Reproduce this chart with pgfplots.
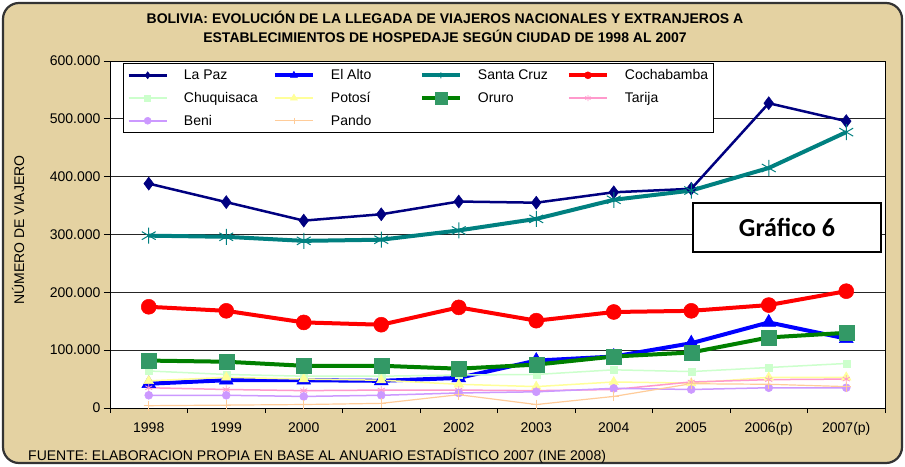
\documentclass[border=0pt]{standalone}
\usepackage{pgfplots}
\pgfplotsset{compat=1.18}
\usepackage{fontspec}
\setmainfont{Liberation Sans}
\newfontfamily\carlito{Carlito}
\definecolor{parch}{RGB}{228,210,162}
\definecolor{cLaPaz}{RGB}{0,0,128}
\definecolor{cElAlto}{RGB}{0,0,255}
\definecolor{cSanta}{RGB}{0,128,128}
\definecolor{cCocha}{RGB}{255,0,0}
\definecolor{cChuq}{RGB}{204,255,204}
\definecolor{cPotosi}{RGB}{255,255,153}
\definecolor{cOruroL}{RGB}{0,128,0}
\definecolor{cOruroM}{RGB}{51,153,102}
\definecolor{cTarija}{RGB}{255,153,204}
\definecolor{cBeni}{RGB}{204,153,255}
\definecolor{cPando}{RGB}{255,204,153}
\newcommand{\LE}[1]{\makebox[87pt][l]{#1}}
\newcommand{\LL}[1]{\makebox[82pt][l]{#1}}
\newcommand{\fs}{\fontsize{14}{16}\selectfont}

\begin{document}
\begin{tikzpicture}[x=1pt,y=1pt]
\path[use as bounding box] (0,0) rectangle (905,466);
\draw[line width=2.2pt, rounded corners=16pt, draw=black!80, fill=parch] (3,3) rectangle (902,463);
\begin{axis}[
  at={(110pt,58pt)}, anchor=south west,
  scale only axis, width=775pt, height=347pt,
  xmin=-0.5, xmax=9.5, ymin=0, ymax=600000,
  axis background/.style={fill=white},
  axis line style={black, line width=0.8pt},
  ytick={0,100000,200000,300000,400000,500000,600000},
  scaled y ticks=false,
  yticklabel style={/pgf/number format/.cd, fixed, 1000 sep={.}},
  /pgf/number format/assume math mode=true,
  xtick={0,1,2,3,4,5,6,7,8,9},
  xticklabels={1998,1999,2000,2001,2002,2003,2004,2005,2006(p),2007(p)},
  minor xtick={-0.5,0.5,1.5,2.5,3.5,4.5,5.5,6.5,7.5,8.5,9.5},
  major x tick style={draw=none},
  tick align=outside, major tick length=6pt, minor tick length=5pt,
  tick style={black, line width=0.8pt},
  xtick pos=bottom, ytick pos=left,
  tick label style={font=\fs},
  xticklabel style={yshift=-5pt},
  ymajorgrids, grid style={black!85, line width=0.8pt},
  clip=false,
  legend columns=4,
  legend cell align=left,
  legend image code/.code={\draw[mark repeat=2,mark phase=2,#1] plot coordinates {(0pt,0pt) (19pt,0pt) (38pt,0pt)};},
  legend style={at={(axis description cs:0.0168,0.994)}, anchor=north west,
    draw=black, line width=0.8pt, fill=white, font=\fs,
    inner xsep=4pt, inner ysep=4pt, row sep=7pt,
    /tikz/every odd column/.append style={column sep=14pt}},
]
\addplot[cLaPaz, line width=2.5pt, mark=diamond*, mark size=6.5pt, mark options={solid, line width=0.5pt}, legend image post style={mark size=3.5pt}]
 coordinates {(0,388000) (1,356000) (2,324000) (3,335000) (4,357000) (5,355000) (6,373000) (7,379000) (8,527000) (9,496000)};
\addlegendentry{\LE{La Paz}}
\addplot[cElAlto, line width=4pt, mark=triangle*, mark size=8pt, mark options={solid, line width=0.5pt}, legend image post style={mark size=4pt}]
 coordinates {(0,42000) (1,48000) (2,48000) (3,47000) (4,52000) (5,82000) (6,89000) (7,112000) (8,148000) (9,120000)};
\addlegendentry{\LE{El Alto}}
\addplot[cSanta, line width=4pt, mark=asterisk, mark size=8pt, mark options={solid, line width=1pt}, legend image post style={mark size=3pt}]
 coordinates {(0,298000) (1,296000) (2,289000) (3,291000) (4,307000) (5,327000) (6,360000) (7,376000) (8,415000) (9,477000)};
\addlegendentry{\LE{Santa Cruz}}
\addplot[cCocha, line width=4pt, mark=*, mark size=7.5pt, mark options={solid, line width=0.5pt}, legend image post style={mark size=3.5pt}]
 coordinates {(0,175000) (1,168000) (2,148000) (3,144000) (4,174000) (5,151000) (6,166000) (7,168000) (8,178000) (9,202000)};
\addlegendentry{\LL{Cochabamba}}
\addplot[cChuq, line width=1.5pt, mark=square*, mark size=3.5pt, mark options={solid, line width=0.5pt}, legend image post style={mark size=3pt}]
 coordinates {(0,64000) (1,58000) (2,55000) (3,55000) (4,57000) (5,58000) (6,66000) (7,63000) (8,70000) (9,77000)};
\addlegendentry{\LE{Chuquisaca}}
\addplot[cPotosi, line width=1.5pt, mark=triangle*, mark size=5.5pt, mark options={solid, line width=0.5pt}, legend image post style={mark size=4pt}]
 coordinates {(0,47000) (1,53000) (2,50000) (3,48000) (4,41000) (5,37000) (6,45000) (7,43000) (8,53000) (9,53000)};
\addlegendentry{\LE{Potosí}}
\addplot[cOruroL, line width=4pt, mark=square*, mark size=7.5pt, mark options={solid, line width=0.5pt, draw=cOruroM, fill=cOruroM}, legend image post style={mark size=6pt}]
 coordinates {(0,82000) (1,80000) (2,73000) (3,73000) (4,68000) (5,75000) (6,89000) (7,96000) (8,122000) (9,130000)};
\addlegendentry{\LE{Oruro}}
\addplot[cTarija, line width=1.5pt, mark=asterisk, mark size=4pt, mark options={solid, line width=0.8pt}, legend image post style={mark size=3pt}]
 coordinates {(0,35000) (1,32000) (2,30000) (3,31000) (4,31000) (5,30000) (6,32000) (7,45000) (8,49000) (9,50000)};
\addlegendentry{\LL{Tarija}}
\addplot[cBeni, line width=1.5pt, mark=*, mark size=4pt, mark options={solid, line width=0.5pt}, legend image post style={mark size=3.5pt}]
 coordinates {(0,22000) (1,22000) (2,20000) (3,22000) (4,26000) (5,28000) (6,34000) (7,32000) (8,35000) (9,35000)};
\addlegendentry{\LE{Beni}}
\addplot[cPando, line width=1.2pt, mark=+, mark size=5pt, mark options={solid, line width=0.8pt}, legend image post style={mark size=3pt}]
 coordinates {(0,4000) (1,5000) (2,6000) (3,8000) (4,23000) (5,6000) (6,20000) (7,42000) (8,41000) (9,37000)};
\addlegendentry{\LE{Pando}}
\end{axis}
\node[draw=black, line width=1.5pt, fill=white, minimum width=188pt, minimum height=49pt, inner sep=0pt, font=\carlito\bfseries\fontsize{26}{30}\selectfont] at (787,238.5) {Gráfico 6};
\node[font=\bfseries\fontsize{14}{19}\selectfont, align=center] at (445,439.5) {BOLIVIA: EVOLUCIÓN DE LA LLEGADA DE VIAJEROS NACIONALES Y EXTRANJEROS A\\ESTABLECIMIENTOS DE HOSPEDAJE SEGÚN CIUDAD DE 1998 AL 2007};
\node[rotate=90, font=\fs] at (18,236) {NÚMERO DE VIAJERO};
\node[anchor=base west, font=\fs, inner sep=0pt] at (28,5.5) {FUENTE: ELABORACION PROPIA EN BASE AL ANUARIO ESTADÍSTICO 2007 (INE 2008)};
\end{tikzpicture}
\end{document}
